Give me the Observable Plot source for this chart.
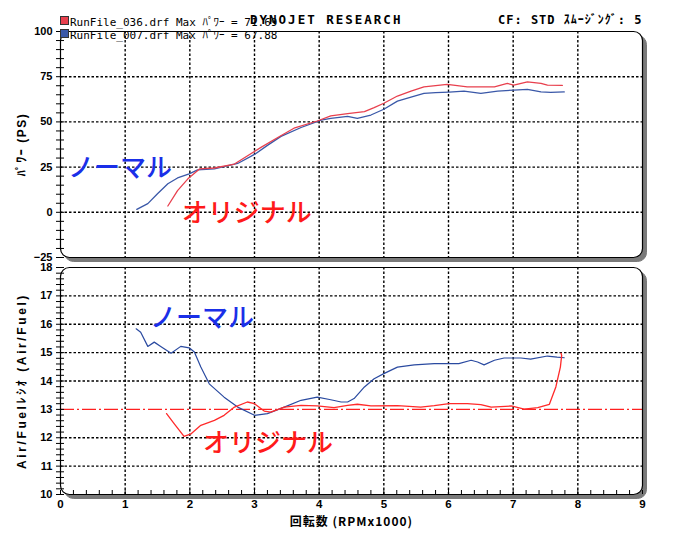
<!DOCTYPE html>
<html><head><meta charset="utf-8">
<script src="https://cdn.jsdelivr.net/npm/d3@7"></script>
<script src="https://cdn.jsdelivr.net/npm/@observablehq/plot@0.6"></script>
<style>
body{margin:0;background:#fff;}
#wrap{position:relative;width:680px;height:534px;overflow:hidden;background:#fff;}
#wrap svg{position:absolute;left:0;}
.hd{position:absolute;white-space:nowrap;font-family:"DejaVu Sans Mono","Noto Sans CJK JP",monospace;color:#000;}
.sw{position:absolute;width:7px;height:7px;border:1px solid #333;}
.ylab1 text{letter-spacing:1.5px;}
.ylab2 text{letter-spacing:2.6px;}
.xlab text{letter-spacing:1px;}
</style></head>
<body><div id="wrap">
</div>
<script>
// ---- data ----
const legendNames = ["RunFile_036.drf Max ﾊﾟﾜｰ = 71.69", "RunFile_007.drf Max ﾊﾟﾜｰ = 67.88"];
const seriesColors = ["#e8404e", "#3a58a8"];

// Power (PS) vs RPM x1000
const pwrRpmRed = [1.66,1.81,1.97,2.15,2.38,2.69,3.10,3.36,3.61,3.97,4.18,4.44,4.70,4.85,5.0,5.21,5.42,5.62,5.98,6.29,6.71,6.91,7.01,7.22,7.43,7.53,7.76];
const pwrRed    = [3.5,12,18.5,24,24.5,26.7,35.9,41.4,46.5,50.5,53.3,54.6,55.7,57.9,60.3,64.3,67,69.4,70.7,69.4,69.4,71.3,70.3,72.1,71.3,70.3,70.2];
const pwrRpmBlue = [1.18,1.35,1.50,1.66,1.81,1.99,2.12,2.38,2.74,3.0,3.2,3.41,3.72,4.03,4.18,4.44,4.59,4.80,5.0,5.21,5.42,5.62,5.80,6.01,6.24,6.5,6.76,7.01,7.22,7.43,7.58,7.79];
const pwrBlue    = [1.6,4.8,10.3,15.8,19,21.3,23.5,24,27,32,37,42,46.9,51,52,53.1,52,53.8,57,61.5,63.7,65.8,66.2,66.5,67,65.8,67,67.6,68,66.6,66.3,66.6];

// Air/Fuel vs RPM x1000
const afrRpmRed = [1.64,1.76,1.91,2.02,2.17,2.38,2.53,2.69,2.89,3.0,3.15,3.25,3.46,3.72,3.97,4.23,4.44,4.59,4.80,5.21,5.57,5.78,6.01,6.29,6.5,6.66,6.97,7.17,7.38,7.56,7.66,7.73,7.75,7.74];
const afrRed    = [12.85,12.49,12.05,12.14,12.44,12.61,12.79,13.08,13.26,13.2,12.94,12.9,13.08,13.14,13.12,13.06,13.14,13.18,13.12,13.13,13.08,13.13,13.2,13.2,13.17,13.08,13.12,13.01,13.06,13.18,13.79,14.49,14.9,14.98];
const afrRpmBlue = [1.17,1.24,1.35,1.45,1.55,1.71,1.86,1.99,2.07,2.17,2.30,2.53,2.74,3.0,3.2,3.46,3.72,3.97,4.18,4.34,4.44,4.54,4.70,4.85,5.0,5.21,5.47,5.78,6.01,6.16,6.35,6.45,6.55,6.71,6.86,7.12,7.27,7.53,7.68,7.79];
const afrBlue    = [15.84,15.72,15.22,15.37,15.22,14.98,15.22,15.17,15.02,14.49,13.9,13.43,13.08,12.79,12.85,13.08,13.32,13.43,13.34,13.26,13.26,13.38,13.79,14.08,14.26,14.49,14.57,14.61,14.61,14.61,14.73,14.67,14.57,14.73,14.81,14.81,14.77,14.88,14.84,14.82];
const afrTarget = 13;

// ticks
const xTicks = [0,1,2,3,4,5,6,7,8,9];
const xGrid = [1,2,3,4,5,6,7,8];
const pwrTicks = [-25,0,25,50,75,100];
const pwrGrid = [0,25,50,75];
const afrTicks = [10,11,12,13,14,15,16,17,18];
const afrGrid = [11,12,14,15,16,17];

// annotations
const annoText = ["ノーマル", "オリジナル"];
const annoColors = ["#1a2fe8", "#ff1a1a"];
const pwrAnnoX = [0.92, 2.88], pwrAnnoY = [24.2, -0.5];
const afrAnnoX = [2.19, 3.21], afrAnnoY = [16.2, 11.8];

const xLabel = "回転数 (RPMx1000)";
const pwrLabel = "ﾊﾟﾜｰ (PS)";
const afrLabel = "Air/Fuelﾚｼｵ (Air/Fuel)";
const brand = "DYNOJET RESEARCH";
const cfText = "CF: STD ｽﾑｰｼﾞﾝｸﾞ: 5";

// ---- build ----
const zip = (xs, ys) => xs.map((x, i) => ({x, y: ys[i]}));
const anno = (xs, ys) => annoText.map((t, i) => ({t, x: xs[i], y: ys[i], c: annoColors[i]}));
const tickFont = {fontWeight: "bold", fontSize: 11};
const gridStyle = {stroke: "#000", strokeOpacity: 1, strokeDasharray: "2.5,2", strokeWidth: 1.4};
const yLabelStyle = {frameAnchor: "left", rotate: -90, dx: -38, textAnchor: "middle", lineAnchor: "middle",
  fontSize: 12, fontWeight: "bold", fontFamily: "Liberation Sans, Noto Sans CJK JP"};

function panelBase(yGrid) {
  return [
    Plot.frame({fill: "#7a7a7a", stroke: "#7a7a7a", dx: 4, dy: 4, rx: 9}),
    Plot.frame({fill: "white", rx: 9}),
    Plot.ruleX(xGrid, gridStyle),
    Plot.ruleY(yGrid, gridStyle)
  ];
}

const topChart = Plot.plot({
  width: 680, height: 262,
  marginTop: 31, marginBottom: 5, marginLeft: 60, marginRight: 38,
  style: {background: "transparent", fontFamily: "Liberation Sans, Arial, sans-serif", overflow: "visible"},
  x: {domain: [0, 9], axis: null},
  y: {domain: [-25, 100], axis: null},
  marks: [
    ...panelBase(pwrGrid),
    Plot.line(zip(pwrRpmBlue, pwrBlue), {x: "x", y: "y", stroke: seriesColors[1], strokeWidth: 1.3}),
    Plot.line(zip(pwrRpmRed, pwrRed), {x: "x", y: "y", stroke: seriesColors[0], strokeWidth: 1.3}),
    Plot.text(anno(pwrAnnoX, pwrAnnoY), {x: "x", y: "y", text: "t", fill: "c", fontSize: 26, fontWeight: 500, fontFamily: "Noto Sans CJK JP"}),
    Plot.frame({stroke: "#000", rx: 9, strokeWidth: 1.2}),
    Plot.axisY({ticks: d3.range(-25, 101, 5), tickSize: 4, tickFormat: () => "", label: null}),
    Plot.axisY({ticks: d3.range(-25, 101, 5), tickSize: 4, dx: 4, tickFormat: () => "", label: null}),
    Plot.axisY({ticks: pwrTicks, tickSize: 0, tickPadding: 8, label: null, ...tickFont}),
    Plot.text([pwrLabel], {...yLabelStyle, className: "ylab1"})
  ]
});
topChart.style.top = "0px";

const botChart = Plot.plot({
  width: 680, height: 274,
  marginTop: 7, marginBottom: 40, marginLeft: 60, marginRight: 38,
  style: {background: "transparent", fontFamily: "Liberation Sans, Arial, sans-serif", overflow: "visible"},
  x: {domain: [0, 9], axis: null},
  y: {domain: [10, 18], axis: null},
  marks: [
    ...panelBase(afrGrid),
    Plot.ruleY([afrTarget], {stroke: "#ff2020", strokeWidth: 1.2, strokeDasharray: "14,3,2,3"}),
    Plot.line(zip(afrRpmBlue, afrBlue), {x: "x", y: "y", stroke: "#2a4aa0", strokeWidth: 1.2}),
    Plot.line(zip(afrRpmRed, afrRed), {x: "x", y: "y", stroke: "#ff2a2a", strokeWidth: 1.3}),
    Plot.text(anno(afrAnnoX, afrAnnoY), {x: "x", y: "y", text: "t", fill: "c", fontSize: 26, fontWeight: 500, fontFamily: "Noto Sans CJK JP"}),
    Plot.frame({stroke: "#000", rx: 9, strokeWidth: 1.2}),
    Plot.axisY({ticks: d3.range(10, 18.01, 0.2), tickSize: 4, tickFormat: () => "", label: null}),
    Plot.axisY({ticks: d3.range(10, 18.01, 0.2), tickSize: 4, dx: 4, tickFormat: () => "", label: null}),
    Plot.axisY({ticks: afrTicks, tickSize: 0, tickPadding: 8, label: null, ...tickFont}),
    Plot.axisX({ticks: d3.range(0, 9.01, 0.2), tickSize: 4, dy: -4, tickFormat: () => "", label: null}),
    Plot.axisX({ticks: xTicks, tickSize: 0, tickPadding: 5, label: null, ...tickFont, fontSize: 11.5}),
    Plot.text([afrLabel], {...yLabelStyle, className: "ylab2"}),
    Plot.text([xLabel], {frameAnchor: "bottom", dy: 28, lineAnchor: "middle", fontSize: 12, fontWeight: "bold", fontFamily: "Noto Sans CJK JP", className: "xlab"})
  ]
});
botChart.style.top = "260px";

const wrap = document.getElementById("wrap");
wrap.appendChild(botChart);
wrap.appendChild(topChart);

function addDiv(cls, text, css) {
  const d = document.createElement("div");
  d.className = cls;
  if (text) d.textContent = text;
  Object.assign(d.style, css);
  wrap.appendChild(d);
}
addDiv("sw", "", {left: "60px", top: "16px", background: seriesColors[0]});
addDiv("sw", "", {left: "60px", top: "29px", background: seriesColors[1]});
addDiv("hd", legendNames[0], {left: "70px", top: "13px", fontSize: "11px"});
addDiv("hd", legendNames[1], {left: "70px", top: "26px", fontSize: "11px"});
addDiv("hd", brand, {left: "250px", top: "12px", fontSize: "12.5px", fontWeight: "bold", letterSpacing: "2px"});
addDiv("hd", cfText, {left: "498px", top: "10px", fontSize: "12px", fontWeight: "bold", letterSpacing: "1px"});
</script>
</body></html>
